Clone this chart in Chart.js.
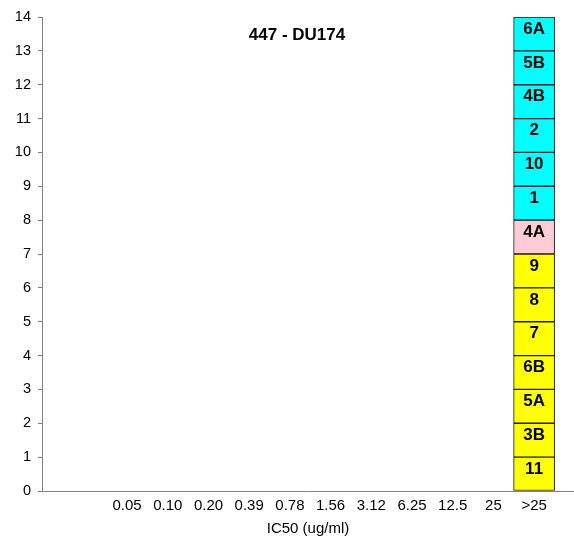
<!DOCTYPE html>
<html>
<head>
<meta charset="utf-8">
<script src="https://cdn.jsdelivr.net/npm/chart.js@4.4.0/dist/chart.umd.min.js"></script>
<style>
html,body{margin:0;padding:0;background:#fff;}
#wrap{width:574px;height:538px;position:relative;}
</style>
</head>
<body>
<div id="wrap"><canvas id="c"></canvas></div>
<script>
// ---- data ----
const chartTitle = '447 - DU174';
const xAxisTitle = 'IC50 (ug/ml)';
const xLabels = ['0.05','0.10','0.20','0.39','0.78','1.56','3.12','6.25','12.5','25','>25'];
const yTicks = [0,1,2,3,4,5,6,7,8,9,10,11,12,13,14];
// isolates stacked bottom -> top
const isolates = ['11','3B','5A','6B','7','8','9','4A','1','10','2','4B','5B','6A'];
const isolateIC50 = ['>25','>25','>25','>25','>25','>25','>25','>25','>25','>25','>25','>25','>25','>25'];
const isolateCount = [1,1,1,1,1,1,1,1,1,1,1,1,1,1];
const isolateGroup = ['g1','g1','g1','g1','g1','g1','g1','g2','g3','g3','g3','g3','g3','g3'];

// ---- styles ----
const groupColor = {g1:'#FFFF00', g2:'#FFCCD5', g3:'#00FFFF'};
const FONT = "'Liberation Sans', Arial, sans-serif";

const datasets = isolates.map((name, i) => ({
  label: name,
  data: [{x: xLabels.indexOf(isolateIC50[i]), y: isolateCount[i]}],
  backgroundColor: groupColor[isolateGroup[i]],
  borderColor: '#1a1a1a',
  borderWidth: 1,
  borderSkipped: false,
  barThickness: 41
}));

const labelPlugin = {
  id: 'segLabels',
  afterDatasetsDraw(chart) {
    const ctx = chart.ctx;
    ctx.save();
    ctx.font = 'bold 17px ' + FONT;
    ctx.fillStyle = '#000';
    ctx.textAlign = 'center';
    ctx.textBaseline = 'middle';
    chart.data.datasets.forEach((ds, i) => {
      const el = chart.getDatasetMeta(i).data[0];
      if (!el) return;
      ctx.fillText(ds.label, el.x, el.y + 12);
    });
    ctx.restore();
  }
};

const titlePlugin = {
  id: 'inTitle',
  afterDraw(chart) {
    const ctx = chart.ctx, a = chart.chartArea;
    ctx.save();
    ctx.font = 'bold 17px ' + FONT;
    ctx.fillStyle = '#000';
    ctx.textAlign = 'center';
    ctx.textBaseline = 'middle';
    ctx.fillText(chartTitle, (a.left + a.right) / 2 - 11, a.top + 18);
    ctx.restore();
  }
};

new Chart(document.getElementById('c'), {
  type: 'bar',
  data: { datasets },
  options: {
    responsive: true,
    maintainAspectRatio: false,
    animation: false,
    layout: { padding: { top: 17, right: 0, left: 0, bottom: 0 } },
    plugins: { legend: { display: false }, tooltip: { enabled: false }, title: { display: false } },
    scales: {
      x: {
        type: 'linear',
        stacked: true,
        offset: false,
        min: -2.09,
        max: 10.98,
        afterBuildTicks: s => { s.ticks = xLabels.map((_, i) => ({ value: i })); },
        afterFit: s => { s.height = 47; },
        ticks: {
          autoSkip: false,
          maxRotation: 0,
          padding: 6,
          color: '#000',
          font: { family: FONT, size: 15 },
          callback: v => xLabels[v] !== undefined ? xLabels[v] : ''
        },
        grid: { display: false, drawTicks: false },
        border: { display: true, color: '#808080', width: 1 },
        title: { display: true, text: xAxisTitle, color: '#000', font: { family: FONT, size: 15 }, padding: { top: 2, bottom: 0 } }
      },
      y: {
        stacked: true,
        min: 0,
        max: 14,
        afterBuildTicks: s => { s.ticks = yTicks.map(v => ({ value: v })); },
        afterFit: s => { s.width = 42; },
        ticks: { color: '#000', font: { family: FONT, size: 14.5 }, padding: 7 },
        grid: { display: true, drawOnChartArea: false, drawTicks: true, tickLength: 4, color: '#808080' },
        border: { display: true, color: '#808080', width: 1 }
      }
    }
  },
  plugins: [labelPlugin, titlePlugin]
});
</script>
</body>
</html>
